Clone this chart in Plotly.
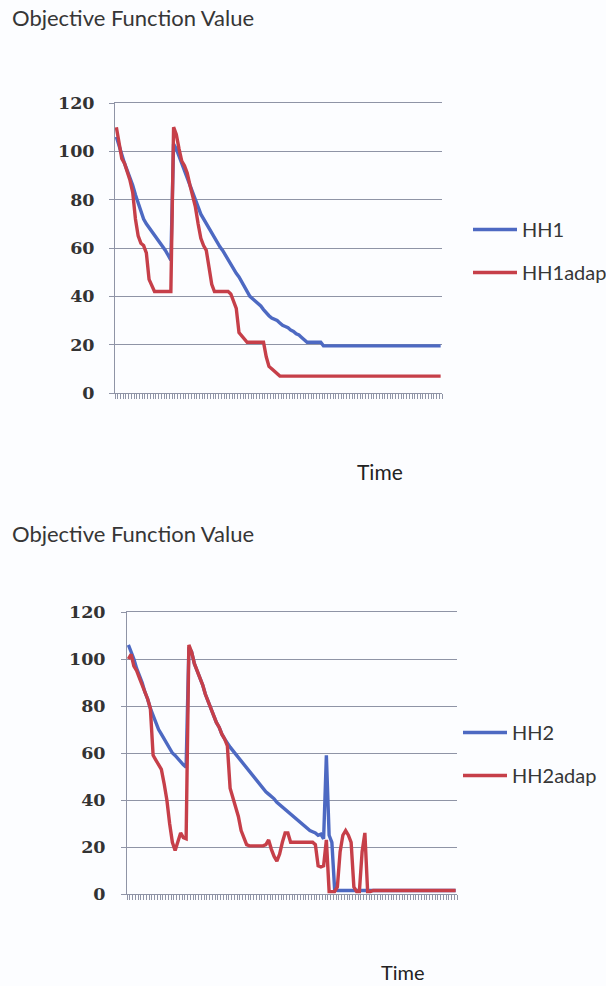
import plotly.graph_objects as go

# ---------------- data ----------------
time = list(range(1, 121))

hh1 = [106, 102, 98, 95, 92, 89, 86, 82, 79, 75,
       72, 70, 68.5, 67, 65.5, 64, 62.5, 61, 59, 57,
       55, 103, 101, 98, 95, 92, 89, 86, 83, 79,
       77, 74, 72, 70, 68, 66, 64, 62, 60.5, 59,
       57, 55, 53, 51, 49.5, 48, 46, 44, 42, 40,
       39, 38, 37, 36, 34.5, 33, 32, 31, 30.5, 30,
       29, 28, 27.5, 27, 26, 25.5, 24.5, 24, 23, 22,
       21, 21, 21, 21, 21, 21, 19.5, 19.5, 19.5, 19.5,
       19.5, 19.5, 19.5, 19.5, 19.5, 19.5, 19.5, 19.5, 19.5, 19.5,
       19.5, 19.5, 19.5, 19.5, 19.5, 19.5, 19.5, 19.5, 19.5, 19.5,
       19.5, 19.5, 19.5, 19.5, 19.5, 19.5, 19.5, 19.5, 19.5, 19.5,
       19.5, 19.5, 19.5, 19.5, 19.5, 19.5, 19.5, 19.5, 19.5, 19.5]

hh1adap = [110, 104, 97, 95, 92, 88, 83, 72, 65, 62,
           61, 58, 47, 44, 42, 42, 42, 42, 42, 42,
           42, 110, 107, 101, 96, 94, 91, 86, 81, 77,
           70, 64, 61, 59, 52, 45, 42, 42, 42, 42,
           42, 42, 41, 38, 35, 25, 23.5, 22, 21, 21,
           21, 21, 21, 21, 21, 15, 11, 10, 9, 8,
           7, 7, 7, 7, 7, 7, 7, 7, 7, 7,
           7, 7, 7, 7, 7, 7, 7, 7, 7, 7,
           7, 7, 7, 7, 7, 7, 7, 7, 7, 7,
           7, 7, 7, 7, 7, 7, 7, 7, 7, 7,
           7, 7, 7, 7, 7, 7, 7, 7, 7, 7,
           7, 7, 7, 7, 7, 7, 7, 7, 7, 7]

hh2 = [106, 103, 100, 96, 93, 90, 86, 83, 79, 76,
       73, 70, 68, 66, 64, 62, 60, 59, 57.5, 56.5,
       55, 54, 105, 103, 98, 95, 92, 89, 85, 82,
       79, 76, 73, 71, 68, 66, 64, 62.5, 61, 59.5,
       58, 56.5, 55, 53.5, 52, 50.5, 49.5, 48, 46.5, 45,
       43.5, 42.5, 41.5, 40.5, 39, 38, 37, 36, 35, 34,
       33, 32, 31, 30, 29, 28, 27, 26.5, 26, 25,
       25.5, 23.5, 59, 25, 22, 2, 1.5, 1.5, 1.5, 1.5,
       1.5, 1.5, 1.5, 1.5, 1.5, 1.5, 1.5, 1.5, 1.5, 1.5,
       1.5, 1.5, 1.5, 1.5, 1.5, 1.5, 1.5, 1.5, 1.5, 1.5,
       1.5, 1.5, 1.5, 1.5, 1.5, 1.5, 1.5, 1.5, 1.5, 1.5,
       1.5, 1.5, 1.5, 1.5, 1.5, 1.5, 1.5, 1.5, 1.5, 1.5]

hh2adap = [100, 102, 97, 95, 92, 89, 86, 83, 79, 59,
           57, 55, 53, 47, 40, 30, 22, 18.5, 22, 26,
           24, 23.5, 106, 103, 98, 95, 92, 89, 85, 82,
           79, 76, 73, 71, 68, 66, 63, 45, 41, 37,
           33, 27, 24, 21, 20.5, 20.5, 20.5, 20.5, 20.5, 20.5,
           21, 23, 19, 16, 14, 17, 22, 26, 26, 22,
           22, 22, 22, 22, 22, 22, 22, 22, 21, 12,
           11.5, 12, 23, 1, 1, 1, 3, 18, 25, 27,
           25, 22, 3, 1, 1, 18, 26, 1, 1, 1.5,
           1.5, 1.5, 1.5, 1.5, 1.5, 1.5, 1.5, 1.5, 1.5, 1.5,
           1.5, 1.5, 1.5, 1.5, 1.5, 1.5, 1.5, 1.5, 1.5, 1.5,
           1.5, 1.5, 1.5, 1.5, 1.5, 1.5, 1.5, 1.5, 1.5, 1.5]

y_ticks = [0, 20, 40, 60, 80, 100, 120]
title_text = "Objective Function Value"
xaxis_text = "Time"

# ---------------- style ----------------
W, H = 606, 986
BLUE = "#4d69c2"
RED = "#c63f49"
GRID = "#8f94a6"
TXT = "#363636"
SANS = "Lato, 'Open Sans', sans-serif"
SERIF = "'DejaVu Serif', serif"


def fx(px):
    return px / W


def fy(py):
    return 1 - py / H


fig = go.Figure()
fig.add_trace(go.Scatter(x=time, y=hh1, name="HH1", mode="lines",
                         line=dict(color=BLUE, width=3.4),
                         xaxis="x", yaxis="y", legend="legend", legendgroup="g1"))
fig.add_trace(go.Scatter(x=time, y=hh1adap, name="HH1adap", mode="lines",
                         line=dict(color=RED, width=3.4),
                         xaxis="x", yaxis="y", legend="legend", legendgroup="g2"))
fig.add_trace(go.Scatter(x=time, y=hh2, name="HH2", mode="lines",
                         line=dict(color=BLUE, width=3.4),
                         xaxis="x2", yaxis="y2", legend="legend2", legendgroup="g3"))
fig.add_trace(go.Scatter(x=time, y=hh2adap, name="HH2adap", mode="lines",
                         line=dict(color=RED, width=3.4),
                         xaxis="x2", yaxis="y2", legend="legend2", legendgroup="g4"))

xcommon = dict(range=[0.5, 120.5], showgrid=False, zeroline=False,
               showline=True, mirror=True, linecolor=GRID, linewidth=1,
               ticks="outside", tickmode="linear", tick0=0.5, dtick=1,
               ticklen=5, tickwidth=1, tickcolor=GRID, showticklabels=False,
               automargin=False)
ycommon = dict(range=[0, 120], tickvals=y_ticks, showgrid=True, gridcolor=GRID,
               gridwidth=1, zeroline=False, showline=True, linecolor=GRID,
               linewidth=1, ticks="outside", ticklen=5, tickwidth=1, tickcolor=GRID,
               automargin=False,
               tickfont=dict(family=SERIF, size=17.5, color="#333333", weight="bold"))

legend_common = dict(xanchor="left", yanchor="middle", bgcolor="rgba(0,0,0,0)",
                     font=dict(family=SANS, size=20, color=TXT),
                     itemwidth=44, tracegroupgap=14, itemclick=False)

fig.update_layout(
    template="none",
    width=W, height=H,
    margin=dict(l=0, r=0, t=0, b=0, pad=0, autoexpand=False),
    paper_bgcolor="#fcfdff", plot_bgcolor="rgba(0,0,0,0)",
    showlegend=True,
    xaxis=dict(xcommon, domain=[fx(115), fx(442)], anchor="y"),
    yaxis=dict(ycommon, domain=[fy(393), fy(103)], anchor="x", ticklabelstandoff=11),
    xaxis2=dict(xcommon, domain=[fx(127), fx(457)], anchor="y2"),
    yaxis2=dict(ycommon, domain=[fy(894), fy(612)], anchor="x2", ticklabelstandoff=12),
    legend=dict(legend_common, x=fx(468), y=fy(251)),
    legend2=dict(legend_common, x=fx(458), y=fy(754)),
    annotations=[
        dict(text=title_text, x=fx(10), y=fy(18), xref="paper", yref="paper",
             xanchor="left", yanchor="middle", showarrow=False,
             font=dict(family=SANS, size=22, color=TXT)),
        dict(text=xaxis_text, x=fx(380), y=fy(471), xref="paper", yref="paper",
             xanchor="center", yanchor="middle", showarrow=False,
             font=dict(family=SANS, size=21, color="#222")),
        dict(text=title_text, x=fx(10), y=fy(533), xref="paper", yref="paper",
             xanchor="left", yanchor="middle", showarrow=False,
             font=dict(family=SANS, size=22, color=TXT)),
        dict(text=xaxis_text, x=fx(403), y=0, xref="paper", yref="paper",
             xanchor="center", yanchor="bottom", showarrow=False,
             font=dict(family=SANS, size=20, color="#222")),
    ],
)

fig.write_html("out.html")
